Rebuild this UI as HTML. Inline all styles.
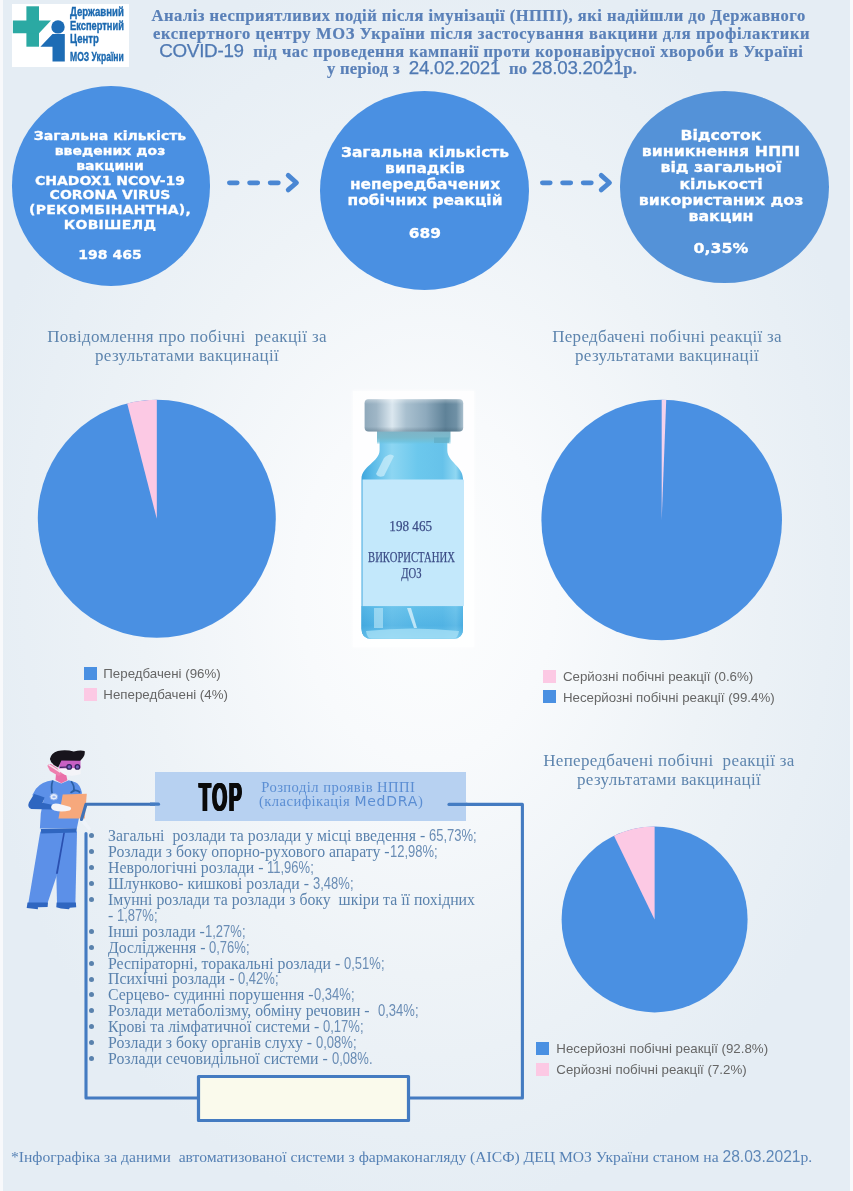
<!DOCTYPE html>
<html lang="uk">
<head>
<meta charset="utf-8">
<title>Аналіз НППІ</title>
<style>
html,body{margin:0;padding:0;}
body{width:853px;height:1191px;position:relative;overflow:hidden;
  font-family:"Liberation Serif",serif;
  background:#eaf0f6;}
#bg{position:absolute;left:0;top:0;width:853px;height:1191px;
  background:
   linear-gradient(90deg,#f8f9fb 0,#f8f9fb 2.6px,rgba(248,249,251,0) 3.4px,rgba(248,249,251,0) 849.6px,#f8f9fb 850.4px,#f8f9fb 853px),
   radial-gradient(ellipse 54% 53% at 50% 49%,#fdfefe 0,#f8fafc 28%,#eef3f7 62%,#e5edf4 100%);}
.abs{position:absolute;}
.nw{white-space:pre;}
/* logo */
#logo{left:12px;top:4px;width:117px;height:63px;background:#fff;}
.lt{position:absolute;left:70px;font-family:"Liberation Sans",sans-serif;font-weight:bold;font-size:12px;line-height:12px;color:#1b69b0;-webkit-text-stroke:.35px #1b69b0;transform-origin:0 50%;transform:scaleX(.8);white-space:pre;}
/* title */
.tl{position:absolute;font-family:"Liberation Serif",serif;font-weight:bold;font-size:16.5px;letter-spacing:.47px;color:#5a80b8;-webkit-text-stroke:.2px #5a80b8;white-space:pre;line-height:18px;height:18px;}
.tl .s{font-family:"Liberation Sans",sans-serif;font-weight:normal;font-size:18.8px;letter-spacing:-.25px;-webkit-text-stroke:.25px #4f79b3;color:#4f79b3;}
/* circles */
.circ{position:absolute;background:#4a90e2;border-radius:50%;}
.ct{position:absolute;text-align:center;color:#fff;font-family:"DejaVu Sans",sans-serif;font-weight:bold;white-space:pre;transform-origin:50% 0;-webkit-text-stroke:.3px #fff;}
/* section titles */
.st{position:absolute;text-align:center;font-family:"Liberation Serif",serif;font-size:17px;letter-spacing:.3px;line-height:19.3px;color:#5e85ae;white-space:pre;}
/* legends */
.lg{position:absolute;font-family:"Liberation Sans",sans-serif;font-size:13.3px;line-height:16px;color:#666;white-space:pre;}
.sq{position:absolute;width:13px;height:13px;}
.blue{background:#4a90e2;}
.pink{background:#fcc9e4;}
/* list */
#list{left:108px;top:828px;font-family:"Liberation Serif",serif;font-size:15.8px;line-height:15.93px;color:#5a82ad;white-space:pre;}
#list .n{font-family:"Liberation Sans",sans-serif;font-size:17px;display:inline-block;transform:scaleX(.765);transform-origin:0 50%;color:#6a8db5;}
.bl{position:absolute;left:88.9px;width:5px;height:5px;border-radius:50%;background:#5a82ad;}
</style>
</head>
<body>
<div id="bg"></div>

<!-- LOGO -->
<div id="logo" class="abs">
<svg class="abs" style="left:0;top:0" width="117" height="63" viewBox="12 4 117 63">
  <rect x="26.4" y="6.3" width="12.6" height="40.4" fill="#2ba9a3"/>
  <path d="M12.9 20.6 H51 L39 33.2 H12.9 Z" fill="#2ba9a3"/>
  <circle cx="58" cy="26.9" r="6.7" fill="#1d6cb5"/>
  <path d="M52.5 34 H64.8 V61.4 H52.5 V46.7 H40.4 Z" fill="#1d6cb5"/>
</svg>
</div>
<div class="lt" style="top:6px">Державний</div>
<div class="lt" style="top:19.5px;transform:scaleX(.775)">Експертний</div>
<div class="lt" style="top:32.5px">Центр</div>
<div class="lt" style="top:50.6px;transform:scaleX(.715)">МОЗ України</div>

<!-- TITLE -->
<div class="tl" style="top:6.8px;left:151.6px;letter-spacing:.49px">Аналіз несприятливих подій після імунізації (НППІ), які надійшли до Державного</div>
<div class="tl" style="top:24.6px;left:153.1px;letter-spacing:.635px">експертного центру МОЗ України після застосування вакцини для профілактики</div>
<div class="tl" style="top:42.2px;left:159.2px;letter-spacing:.545px"><span class="s">COVID-19</span>  під час проведення кампанії проти коронавірусної хвороби в Україні</div>
<div class="tl" style="top:59.4px;left:327px;letter-spacing:.3px">у період з  <span class="s">24.02.2021</span>  по <span class="s">28.03.2021</span>р.</div>


<!-- CIRCLES -->
<div class="circ" style="left:11.5px;top:85.7px;width:198.8px;height:199.9px"></div>
<div class="circ" style="left:319.6px;top:91.1px;width:209.3px;height:199.1px"></div>
<div class="circ" style="left:619.9px;top:91.1px;width:209.1px;height:191.6px;background:#5492d8"></div>

<div class="ct" id="c1" style="left:9.6px;width:200px;top:129.1px;font-size:12.9px;line-height:14.83px;transform:scaleX(1.088)">Загальна кількість
введених доз
вакцини
CHADOX1 NCOV-19
CORONA VIRUS
<span style="letter-spacing:.25px">(РЕКОМБІНАНТНА),
КОВІШЕЛД</span>

198 465</div>
<div class="ct" id="c2" style="left:324.5px;width:200px;top:143.8px;font-size:14.8px;line-height:16.14px;transform:scaleX(1.045)">Загальна кількість
випадків
непередбачених
побічних реакцій

689</div>
<div class="ct" id="c3" style="left:620.7px;width:200px;top:127.2px;font-size:14.8px;line-height:16.14px;transform:scaleX(1.068)">Відсоток
виникнення НППІ
від загальної
кількості
використаних доз
вакцин

0,35%</div>

<!-- ARROWS -->
<svg class="abs" style="left:220px;top:165px" width="100" height="36" viewBox="220 165 100 36" fill="none" stroke="#4a87d3" stroke-width="4.8" stroke-linecap="round" stroke-linejoin="round">
  <path d="M229.4 182.8H237.2M249.6 182.8H257.7M270.2 182.8H278.3"/>
  <path d="M288.2 175.4L296.5 182.7L288.2 189.9"/>
</svg>
<svg class="abs" style="left:533px;top:165px" width="100" height="36" viewBox="533 165 100 36" fill="none" stroke="#4a87d3" stroke-width="4.8" stroke-linecap="round" stroke-linejoin="round">
  <path d="M542.4 182.8H550.2M562.6 182.8H570.7M583.2 182.8H591.3"/>
  <path d="M601.2 175.4L609.5 182.7L601.2 189.9"/>
</svg>

<!-- SECTION TITLES -->
<div class="st" style="left:37px;width:300px;top:326.5px">Повідомлення про побічні  реакції за
результатами вакцинації</div>
<div class="st" style="left:517px;width:300px;top:326.5px">Передбачені побічні реакції за
результатами вакцинації</div>
<div class="st" style="left:519px;width:300px;top:750.5px">Непередбачені побічні  реакції за
результатами вакцинації</div>

<!-- PIES -->
<svg class="abs" style="left:0;top:390px" width="853" height="640" viewBox="0 390 853 640">
<circle cx="156.8" cy="518.8" r="119" fill="#4a90e2"/><path d="M156.8 518.8L156.8 399.79999999999995A119 119 0 0 0 127.21 403.54Z" fill="#fcc9e4"/>
<circle cx="661.7" cy="520" r="120.3" fill="#4a90e2"/><path d="M661.7 520L661.7 399.7A120.3 120.3 0 0 1 666.23 399.79Z" fill="#f3d2ec"/>
<circle cx="654.6" cy="919.4" r="93" fill="#4a90e2"/><path d="M654.6 919.4L654.6 826.4A93 93 0 0 0 613.95 835.76Z" fill="#fcc9e4"/>
</svg>

<!-- LEGENDS -->
<div class="sq blue" style="left:83.5px;top:667px"></div>
<div class="sq pink" style="left:83.5px;top:687.5px"></div>
<div class="lg" style="left:103.3px;top:666.0px">Передбачені (96%)</div>
<div class="lg" style="left:103.3px;top:686.5px">Непередбачені (4%)</div>

<div class="sq pink" style="left:543px;top:670px"></div>
<div class="sq blue" style="left:543px;top:690.3px"></div>
<div class="lg" style="left:562.9px;top:669.0px">Серйозні побічні реакції (0.6%)</div>
<div class="lg" style="left:562.9px;top:689.5px">Несерйозні побічні реакції (99.4%)</div>

<div class="sq blue" style="left:536.2px;top:1042px"></div>
<div class="sq pink" style="left:536.2px;top:1062.5px"></div>
<div class="lg" style="left:556.3px;top:1041.0px">Несерйозні побічні реакції (92.8%)</div>
<div class="lg" style="left:556.3px;top:1061.5px">Серйозні побічні реакції (7.2%)</div>


<!-- VIAL -->
<div class="abs" style="left:353px;top:391px;width:121px;height:256px;background:rgba(255,255,255,.8);box-shadow:0 0 3px 1px rgba(255,255,255,.6)"></div>
<svg class="abs" style="left:350px;top:390px" width="130" height="260" viewBox="350 390 130 260">
  <defs>
    <linearGradient id="capg" x1="0" x2="1" y1="0" y2="0">
      <stop offset="0" stop-color="#8fa9bb"/>
      <stop offset=".12" stop-color="#9fb6c6"/>
      <stop offset=".28" stop-color="#dbe7ef"/>
      <stop offset=".42" stop-color="#a9c0cf"/>
      <stop offset=".62" stop-color="#8eaabd"/>
      <stop offset=".82" stop-color="#5f8298"/>
      <stop offset=".93" stop-color="#6f90a5"/>
      <stop offset="1" stop-color="#a9bfcd"/>
    </linearGradient>
    <linearGradient id="capv" x1="0" x2="0" y1="0" y2="1">
      <stop offset="0" stop-color="#ffffff" stop-opacity=".35"/>
      <stop offset=".15" stop-color="#ffffff" stop-opacity="0"/>
      <stop offset=".85" stop-color="#2d4a5c" stop-opacity="0"/>
      <stop offset="1" stop-color="#2d4a5c" stop-opacity=".3"/>
    </linearGradient>
    <linearGradient id="bodyg" x1="0" x2="1" y1="0" y2="0">
      <stop offset="0" stop-color="#3fa6dd"/>
      <stop offset=".10" stop-color="#58b9e7"/>
      <stop offset=".30" stop-color="#8dd6f2"/>
      <stop offset=".55" stop-color="#6cc8ed"/>
      <stop offset=".80" stop-color="#66c2ea"/>
      <stop offset=".93" stop-color="#90d7f2"/>
      <stop offset="1" stop-color="#4db0e1"/>
    </linearGradient>
    <linearGradient id="ringg" x1="0" x2="0" y1="0" y2="1">
      <stop offset="0" stop-color="#7fb3c6"/>
      <stop offset=".5" stop-color="#79bacd"/>
      <stop offset=".8" stop-color="#6fc1db" stop-opacity=".8"/>
      <stop offset="1" stop-color="#6cc6e6" stop-opacity="0"/>
    </linearGradient>
    <linearGradient id="liq" x1="0" x2="0" y1="0" y2="1">
      <stop offset="0" stop-color="#5dbbe8"/>
      <stop offset=".6" stop-color="#45aae0"/>
      <stop offset="1" stop-color="#74c8ee"/>
    </linearGradient>
  </defs>
  <!-- body -->
  <path d="M379.6 438 H447.3 V450 C447.3 462 463 466 463 479 V628.7 Q463 638.7 453 638.7 H371.5 Q361.5 638.7 361.5 628.7 V479 C361.5 466 379.6 462 379.6 450 Z" fill="url(#bodyg)"/>
  <!-- liquid bottom -->
  <path d="M361.5 606 H463 V628.7 Q463 638.7 453 638.7 H371.5 Q361.5 638.7 361.5 628.7 Z" fill="url(#liq)"/>
  <path d="M361.5 606 H463 V628.7 Q463 638.7 453 638.7 H371.5 Q361.5 638.7 361.5 628.7 Z" fill="url(#bodyg)" opacity=".35"/>
  <path d="M366 631 Q412 626 459 631 Q458 638.7 453 638.7 H371.5 Q367 638.7 366 631Z" fill="#a5def5" opacity=".8"/>
  <rect x="374" y="608" width="9" height="20" fill="#c9ecfa" opacity=".55"/>
  <path d="M407 608 L411 608 L417 628 L414 628Z" fill="#d8f1fb" opacity=".8"/>
  <!-- shoulder highlight -->
  <path d="M384 458 Q390 452 394 456 L384 476 Q378 478 376 474Z" fill="#c9ecfa" opacity=".75"/>
  <!-- ring under cap -->
  <path d="M377 431 H450.5 V444.5 H377Z" fill="url(#ringg)"/>
  <rect x="434" y="437.5" width="15" height="5.5" fill="#5fa9bf" opacity=".6"/>
  <!-- cap -->
  <rect x="364.6" y="399.2" width="98.6" height="32.4" rx="4" ry="4" fill="url(#capg)"/>
  <rect x="364.6" y="399.2" width="98.6" height="32.4" rx="4" ry="4" fill="url(#capv)"/>
  <!-- label -->
  <rect x="362.5" y="479.5" width="101.5" height="126.6" fill="#c3e8fb"/>
</svg>
<div class="abs nw" style="left:360px;width:101.5px;top:517.5px;text-align:center;font-family:'Liberation Serif',serif;font-size:14.6px;line-height:17px;color:#3b4c86;"><span style="display:inline-block;transform:scaleX(.9);-webkit-text-stroke:.25px #3b4c86">198 465</span></div>
<div class="abs nw" style="left:340.5px;width:141.5px;top:550.3px;text-align:center;font-family:'Liberation Serif',serif;font-size:14.6px;line-height:15.2px;color:#3b4c86;"><span style="display:inline-block;transform:scaleX(.73);-webkit-text-stroke:.25px #3b4c86">ВИКОРИСТАНИХ
ДОЗ</span></div>


<!-- DOCTOR -->
<svg class="abs" style="left:20px;top:745px" width="75" height="170" viewBox="20 745 75 170">
<path d="M40.3 831.5L63.4 831.5L57.8 872.2L47.5 903.3L28.3 903.3Z" fill="#5c90e8"/>
<path d="M60.7 831.5L77.0 831.5L75.4 903.3L57.0 903.3L56.3 872.2Z" fill="#5c90e8"/>
<path d="M63.4 832.3L65.0 832.3L57.8 873.8L55.9 873.8Z" fill="#2a50b0"/>
<path d="M27.5 902.5L48.0 902.5L47.6 906.9L37.9 907.2L37.9 909.2L26.7 908.0Z" fill="#2f66c0"/>
<path d="M56.6 902.5L75.9 902.5L76.2 907.2L69.8 907.7L69.0 909.2L61.0 908.5L56.3 907.2Z" fill="#2f66c0"/>
<path d="M52.8 780.2 Q41.6 781.3 35.9 788.8 L32.2 795.3 L43.5 800.0 L40.8 813.2 L39.9 828.6 L76.8 828.6 L80.0 813.2 L81.9 792.5 Q80.0 784.1 75.3 782.2 L68.8 780.3 L61.3 783.6Z" fill="#5c90e8"/>
<path d="M40.8 828.9 L76.8 828.2 L76.3 832.4 L41.2 833.6Z" fill="#2f66c0"/>
<path d="M56.1 772.4 L66.0 773.8 L67.4 780.3 L61.3 783.3 L55.5 779.9Z" fill="#ea6fa8"/>
<path d="M47.4 765.8 Q48.1 763.5 51.4 764.2 L64.1 772.8 L58.5 776.1 L50.0 771.0 Z" fill="#ee7eae"/>
<path d="M60.3 759.2 L80.5 759.2 L80.5 769.1 L58.9 769.1Z" fill="#c860c4"/>
<path d="M57.3 768.6 L80.6 768.0 L80.6 774.0 Q73.5 776.8 65.0 774.9 Q59.9 772.8 57.3 768.6Z" fill="#f4f4f8"/>
<path d="M48.6 764.6 L60.3 772.1" stroke="#f6eef4" stroke-width="1.5" opacity=".9" fill="none"/>
<path d="M49.9 758.9 Q51.1 752.9 57.8 750.9 Q65.8 749.4 73.8 751.4 Q80.2 749.7 84.6 750.9 Q85.8 755.7 80.2 760.8 L61.4 760.5 L58.2 767.4 Q51.8 765.3 49.9 758.9Z" fill="#17141c"/>
<circle cx="69.2" cy="766.9" r="2.3" fill="#7563bd" stroke="#35225f" stroke-width="1.3"/>
<circle cx="77.4" cy="766.9" r="2.2" fill="#7563bd" stroke="#35225f" stroke-width="1.3"/>
<path d="M59.9 767.4 L66.9 767.0" stroke="#35225f" stroke-width="1.1"/>
<path d="M52.8 780.5 Q50.5 786.9 52.4 794.4" fill="none" stroke="#2b5fa5" stroke-width="1.7"/>
<path d="M71.1 781.3 Q74.9 786.0 73.7 791.1 Q70.7 792.7 71.1 792.3 Q75.3 788.3 80.2 792.5" fill="none" stroke="#2b5fa5" stroke-width="1.7"/>
<ellipse cx="53.8" cy="796.8" rx="3.9" ry="3.3" fill="#e6edfb" stroke="#86abec" stroke-width="1"/>
<ellipse cx="54.0" cy="796.9" rx="1.7" ry="1.2" fill="#9cbaf0"/>
<path d="M34.1 793.9 Q38.8 794.9 44.6 797.4 L42.5 802.7 L51.9 804.7 L52.4 809.6 L31.3 808.9 Q27.0 807.1 28.9 802.4Z" fill="#2f66c0"/>
<path d="M62.7 794.6 L86.8 793.7 L84.7 818.6 L58.5 818.6Z" fill="#f6a87c"/>
<path d="M51.4 805.7 Q52.8 802.7 58.5 803.8 L69.7 806.8 Q72.5 808.5 69.7 810.4 Q61.3 812.4 54.2 810.4 Q50.2 808.7 51.4 805.7Z" fill="#f4f4f9"/>
<path d="M80.0 820.7 L84.7 819.7 L91.3 829.1 L88.9 830.5Z" fill="#eef3fa" opacity=".9"/>
</svg>

<!-- FRAME -->
<svg class="abs" style="left:80px;top:795px" width="450" height="335" viewBox="80 795 450 335" fill="none" stroke="#447bc1" stroke-width="3.1" stroke-linejoin="round" stroke-linecap="round">
  <path d="M158 804.2 H86 L81.5 819.5" stroke="#3f73b8"/>
  <path d="M86 833.6 V1098 H197"/>
  <path d="M410 1098 H522.4 V804.4 H449"/>
  <rect x="198.5" y="1076.5" width="210" height="44" fill="#fafaec" stroke-width="3.2"/>
</svg>

<!-- HEADER BOX -->
<div class="abs" style="left:154.7px;top:771.6px;width:311.8px;height:49px;background:#b7d1f1"></div>
<svg class="abs" style="left:440px;top:800px" width="30" height="10" viewBox="440 800 30 10"><path d="M449 804.4H467" stroke="#457dc3" stroke-width="3.2" stroke-linecap="round"/></svg>
<svg class="abs" style="left:150px;top:800px" width="12" height="10" viewBox="150 800 12 10"><path d="M150 804.2H158.5" stroke="#457dc3" stroke-width="3.2" stroke-linecap="round"/></svg>
<div class="abs nw" id="top" style="left:199.1px;top:775.2px;font-family:'Liberation Sans',sans-serif;font-weight:bold;font-size:39.9px;line-height:44px;color:#0a0a0a;text-shadow:-2px 0 #0a0a0a,2px 0 #0a0a0a,-1px 0 #0a0a0a,1px 0 #0a0a0a;letter-spacing:3.5px;transform-origin:0 50%;transform:scaleX(.484)">TOP</div>
<div class="abs nw" id="hd" style="left:259px;top:779.7px;font-family:'Liberation Serif',serif;font-size:14.6px;letter-spacing:.45px;line-height:14.3px;color:#5b8ed3"><span style="margin-left:2.2px">Розподіл</span> проявів НППІ
(класифікація <span style="font-family:'DejaVu Sans',sans-serif;font-size:14px;letter-spacing:.75px">MedDRA</span>)</div>

<!-- LIST -->
<div class="abs" id="list">Загальні  розлади та розлади у місці введення - <span class="n">65,73%;</span>
Розлади з боку опорно-рухового апарату -<span class="n">12,98%;</span>
Неврологічні розлади - <span class="n">11,96%;</span>
Шлунково- кишкові розлади - <span class="n">3,48%;</span>
Імунні розлади та розлади з боку  шкіри та її похідних
- <span class="n">1,87%;</span>
Інші розлади -<span class="n">1,27%;</span>
Дослідження - <span class="n">0,76%;</span>
Респіраторні, торакальні розлади - <span class="n">0,51%;</span>
Психічні розлади - <span class="n">0,42%;</span>
Серцево- судинні порушення -<span class="n">0,34%;</span>
Розлади метаболізму, обміну речовин -  <span class="n">0,34%;</span>
Крові та лімфатичної системи - <span class="n">0,17%;</span>
Розлади з боку органів слуху - <span class="n">0,08%;</span>
Розлади сечовидільної системи - <span class="n">0,08%.</span></div>
<div class="bl" style="top:833.4px"></div>
<div class="bl" style="top:849.2px"></div>
<div class="bl" style="top:865.1px"></div>
<div class="bl" style="top:881.0px"></div>
<div class="bl" style="top:896.8px"></div>
<div class="bl" style="top:928.7px"></div>
<div class="bl" style="top:944.6px"></div>
<div class="bl" style="top:960.5px"></div>
<div class="bl" style="top:976.5px"></div>
<div class="bl" style="top:992.4px"></div>
<div class="bl" style="top:1008.3px"></div>
<div class="bl" style="top:1024.2px"></div>
<div class="bl" style="top:1040.2px"></div>
<div class="bl" style="top:1056.1px"></div>

<!-- FOOTER -->
<div class="abs nw" id="ft" style="left:11px;top:1148.4px;font-family:'Liberation Serif',serif;font-size:15.62px;line-height:18px;color:#5782b5">*Інфографіка за даними  автоматизованої системи з фармаконагляду (АІСФ) ДЕЦ МОЗ України станом на <span style="font-family:'Liberation Sans',sans-serif;font-size:15.6px;color:#5f88b8">28.03.2021</span>р.</div>

</body>
</html>
